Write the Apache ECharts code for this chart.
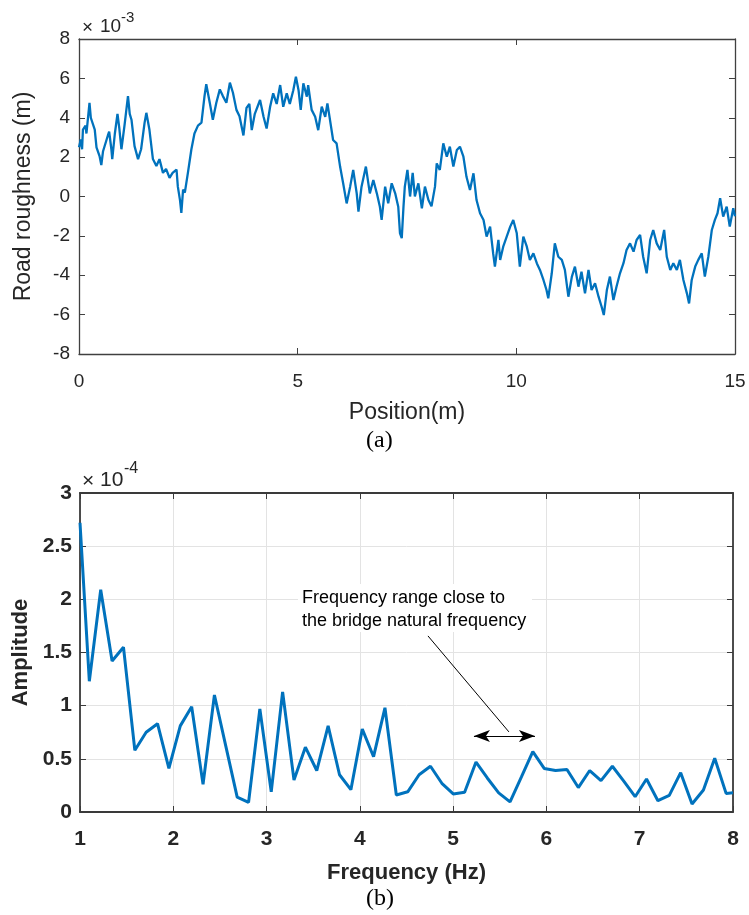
<!DOCTYPE html>
<html><head><meta charset="utf-8">
<script src="https://cdn.jsdelivr.net/npm/echarts@6/dist/echarts.min.js"></script>
<style>html,body{margin:0;padding:0;background:#fff}#c{width:749px;height:915px}</style>
</head><body><div id="c"></div><script>
// (a) Road roughness (x10^-3 m) vs position (m)
const positionM = [0.00,0.04,0.07,0.09,0.15,0.17,0.24,0.27,0.31,0.36,0.40,0.47,0.51,0.55,0.59,0.66,0.69,0.74,0.76,0.82,0.88,0.92,0.97,1.04,1.12,1.16,1.20,1.27,1.35,1.42,1.50,1.54,1.61,1.69,1.77,1.84,1.92,1.99,2.07,2.14,2.23,2.26,2.31,2.34,2.38,2.42,2.49,2.57,2.64,2.72,2.80,2.87,2.91,2.99,3.06,3.14,3.22,3.29,3.37,3.45,3.52,3.60,3.67,3.76,3.83,3.895,3.95,4.02,4.14,4.22,4.29,4.37,4.44,4.52,4.60,4.67,4.75,4.82,4.90,4.96,5.02,5.07,5.13,5.21,5.24,5.32,5.40,5.47,5.55,5.63,5.68,5.74,5.81,5.89,5.97,6.04,6.12,6.20,6.27,6.35,6.39,6.46,6.56,6.65,6.73,6.81,6.88,6.92,7.00,7.07,7.15,7.23,7.30,7.34,7.38,7.42,7.45,7.51,7.57,7.63,7.68,7.76,7.84,7.91,7.99,8.06,8.14,8.18,8.25,8.33,8.41,8.48,8.56,8.64,8.71,8.79,8.86,8.94,9.02,9.09,9.17,9.25,9.32,9.40,9.47,9.51,9.59,9.63,9.70,9.78,9.86,9.93,10.01,10.08,10.16,10.24,10.31,10.39,10.47,10.54,10.62,10.69,10.73,10.81,10.88,10.96,11.04,11.11,11.19,11.27,11.34,11.42,11.49,11.57,11.65,11.72,11.80,11.88,11.95,12.00,12.07,12.14,12.22,12.29,12.37,12.45,12.52,12.60,12.68,12.75,12.83,12.90,12.98,13.06,13.13,13.21,13.29,13.38,13.44,13.52,13.59,13.67,13.74,13.82,13.90,13.95,14.01,14.09,14.16,14.24,14.31,14.39,14.47,14.54,14.60,14.66,14.73,14.81,14.88,14.96,15.00];
const roughness = [2.5,2.9,2.4,3.4,3.6,3.2,4.76,4.0,3.9,3.4,2.5,2.05,1.6,2.3,2.2,3.1,3.3,2.4,1.9,3.2,4.2,3.5,2.4,3.6,5.1,4.2,3.9,2.56,1.9,2.4,3.75,4.25,3.4,1.9,1.55,1.9,1.2,1.4,0.95,1.2,1.37,0.5,-0.2,-0.83,0.35,0.2,1.2,2.4,3.2,3.6,3.75,5.1,5.7,4.76,3.9,4.76,5.44,5.1,4.76,5.78,5.27,4.4,4.08,3.1,4.5,4.7,3.37,4.2,4.9,4.05,3.45,4.56,5.24,4.7,5.66,4.56,5.24,4.7,5.4,6.08,5.4,4.4,5.75,5.07,5.66,4.4,4.05,3.37,4.56,4.05,4.73,3.88,2.87,2.7,1.52,0.67,-0.35,0.5,1.35,0.16,-0.77,0.5,1.52,0.16,0.84,0.16,-0.52,-1.19,0.5,-0.35,0.67,0.16,-0.52,-1.87,-2.12,-0.5,0.5,1.35,0.0,1.2,0.0,0.67,-0.6,0.5,-0.18,-0.5,0.5,1.68,1.35,2.7,2.02,2.53,1.52,2.36,2.53,2.02,1.0,0.33,1.18,-0.18,-0.85,-1.19,-2.04,-1.53,-2.89,-3.56,-2.2,-3.22,-2.55,-2.04,-1.53,-1.19,-1.87,-3.56,-2.04,-2.55,-3.22,-2.89,-3.4,-3.73,-4.24,-4.75,-5.17,-3.9,-2.38,-3.06,-3.22,-3.73,-5.09,-4.07,-3.56,-4.58,-3.82,-4.92,-3.73,-4.75,-4.41,-5.09,-5.6,-6.02,-4.75,-4.07,-5.26,-4.58,-3.9,-3.39,-2.72,-2.38,-2.8,-2.21,-1.95,-3.06,-3.9,-2.21,-1.7,-2.38,-2.72,-1.7,-3.06,-3.73,-3.39,-3.73,-3.22,-4.24,-4.92,-5.43,-4.24,-3.56,-3.22,-2.89,-4.07,-3.06,-1.7,-1.19,-0.85,-0.09,-1.02,-0.52,-1.53,-0.6,-1.0];

// (b) Amplitude (x10^-4) vs frequency (Hz)
const freqHz = [1.000,1.100,1.222,1.344,1.466,1.588,1.709,1.831,1.953,2.075,2.197,2.319,2.441,2.563,2.685,2.807,2.928,3.050,3.172,3.294,3.416,3.538,3.660,3.782,3.904,4.026,4.147,4.269,4.391,4.513,4.635,4.757,4.879,5.001,5.123,5.245,5.366,5.488,5.610,5.732,5.854,5.976,6.098,6.220,6.342,6.464,6.585,6.707,6.829,6.951,7.073,7.195,7.317,7.439,7.561,7.683,7.804,7.926,8.000];
const amplitude = [2.72,1.23,2.09,1.42,1.55,0.58,0.75,0.83,0.41,0.81,0.99,0.26,1.10,0.62,0.14,0.09,0.97,0.19,1.13,0.30,0.61,0.39,0.81,0.35,0.21,0.78,0.52,0.98,0.16,0.19,0.35,0.43,0.27,0.17,0.185,0.47,0.32,0.18,0.095,0.33,0.567,0.41,0.39,0.40,0.23,0.39,0.295,0.43,0.29,0.144,0.31,0.106,0.157,0.37,0.075,0.207,0.505,0.175,0.18];

// annotation anchors (data coords of panel b)
const pointerLine = [[4.73, 1.656], [5.598, 0.753]];
const rangeArrow = [[5.223, 0.715], [5.877, 0.715]];
const noteLines = ['Frequency range close to', 'the bridge natural frequency'];

const F = "'Liberation Sans', Arial, Helvetica, sans-serif";
const BLUE = '#0072BD';

function boxAxis(gi, pos, min, max, interval, color, w) {
  return {type:'value', gridIndex:gi, position:pos, min, max, interval,
    axisLine:{show:true,onZero:false,lineStyle:{color,width:w}},
    axisTick:{show:true,inside:true,length:6,lineStyle:{color,width:1}},
    axisLabel:{show:false}, splitLine:{show:false}};
}

const chart = echarts.init(document.getElementById('c'), null, {renderer:'canvas'});
const option = {
  animation:false,
  backgroundColor:'#fff',
  grid:[
    {left:79, top:39, width:656, height:315},
    {left:80, top:493, width:653, height:319}
  ],
  xAxis:[
    Object.assign(boxAxis(0,'bottom',0,15,5,'#404040',1.3), {
      axisLabel:{show:true, fontFamily:F, fontSize:19, color:'#262626', margin:18},
      name:'Position(m)', nameLocation:'middle', nameGap:47,
      nameTextStyle:{fontFamily:F, fontSize:23, color:'#262626'}
    }),
    boxAxis(0,'top',0,15,5,'#404040',1.3),
    Object.assign(boxAxis(1,'bottom',1,8,1,'#3a3a3a',1.8), {
      axisLabel:{show:true, fontFamily:F, fontSize:21, fontWeight:'bold', color:'#262626', margin:17},
      splitLine:{show:true, lineStyle:{color:'#e3e3e3', width:1}},
      name:'Frequency (Hz)', nameLocation:'middle', nameGap:50,
      nameTextStyle:{fontFamily:F, fontSize:22, fontWeight:'bold', color:'#262626'}
    }),
    boxAxis(1,'top',1,8,1,'#3a3a3a',1.8)
  ],
  yAxis:[
    Object.assign(boxAxis(0,'left',-8,8,2,'#404040',1.3), {
      axisLabel:{show:true, fontFamily:F, fontSize:19, color:'#262626', margin:9},
      name:'Road roughness (m)', nameLocation:'middle', nameGap:44,
      nameTextStyle:{fontFamily:F, fontSize:23, color:'#262626'}
    }),
    boxAxis(0,'right',-8,8,2,'#404040',1.3),
    Object.assign(boxAxis(1,'left',0,3,0.5,'#3a3a3a',1.8), {
      axisLabel:{show:true, fontFamily:F, fontSize:21, fontWeight:'bold', color:'#262626', margin:8},
      splitLine:{show:true, lineStyle:{color:'#e3e3e3', width:1}},
      name:'Amplitude', nameLocation:'middle', nameGap:46,
      nameTextStyle:{fontFamily:F, fontSize:22, fontWeight:'bold', color:'#262626'}
    }),
    boxAxis(1,'right',0,3,0.5,'#3a3a3a',1.8)
  ],
  series:[
    {type:'line', xAxisIndex:0, yAxisIndex:0, showSymbol:false, symbol:'none', clip:true,
     lineStyle:{color:BLUE, width:2.3}, data: positionM.map((p,i)=>[p, roughness[i]])},
    {type:'line', xAxisIndex:2, yAxisIndex:2, showSymbol:false, symbol:'none', clip:true,
     lineStyle:{color:BLUE, width:3}, data: freqHz.map((f,i)=>[f, amplitude[i]]),
     markLine:{silent:true, animation:false, label:{show:false},
       lineStyle:{color:'#000', width:1, type:'solid'},
       data:[
         [{coord:pointerLine[0], symbol:'none'}, {coord:pointerLine[1], symbol:'none'}],
         [{coord:rangeArrow[0], symbol:'arrow', symbolSize:[9,16]}, {coord:rangeArrow[1], symbol:'arrow', symbolSize:[9,16]}]
       ]}
    }
  ],
  graphic:[
    {type:'text', left:82, top:18, style:{text:'×', font:'19px '+F, fill:'#262626'}},
    {type:'text', left:100, top:17, style:{text:'10', font:'19px '+F, fill:'#262626'}},
    {type:'text', left:121, top:10, style:{text:'-3', font:'15px '+F, fill:'#262626'}},
    {type:'text', left:82, top:471, style:{text:'×', font:'21px '+F, fill:'#262626'}},
    {type:'text', left:100, top:470, style:{text:'10', font:'21px '+F, fill:'#262626'}},
    {type:'text', left:124, top:461, style:{text:'-4', font:'16px '+F, fill:'#262626'}},
    {type:'rect', left:298, top:584, shape:{width:234, height:48}, style:{fill:'#fff'}, z:10},
    {type:'text', left:302, top:589, style:{text:noteLines[0], font:'18px '+F, fill:'#000'}, z:11},
    {type:'text', left:302, top:612, style:{text:noteLines[1], font:'18px '+F, fill:'#000'}, z:11},
    {type:'text', left:366, top:429, style:{text:'(a)', font:"24px 'Liberation Serif', 'DejaVu Serif', serif", fill:'#000'}},
    {type:'text', left:366, top:887, style:{text:'(b)', font:"24px 'Liberation Serif', 'DejaVu Serif', serif", fill:'#000'}}
  ]
};
chart.setOption(option);
</script></body></html>
